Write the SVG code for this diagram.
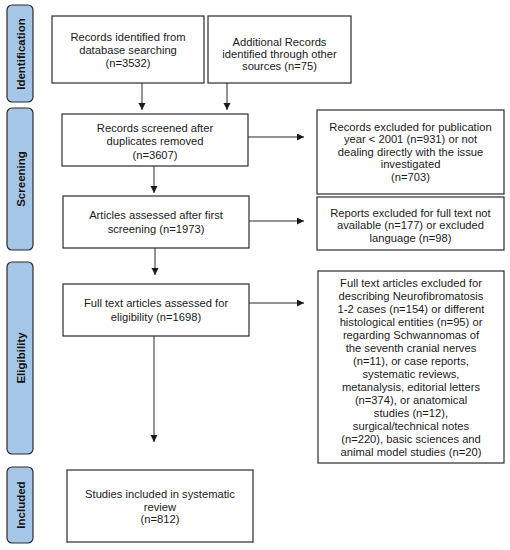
<svg xmlns="http://www.w3.org/2000/svg" width="510" height="550" viewBox="0 0 510 550">
<defs>
<style>
.box{fill:#fff;stroke:#2b2b2b;stroke-width:1.2}
.side{fill:#a6c6e8;stroke:#2b2b2b;stroke-width:1.2}
.t{font-family:"Liberation Sans",Arial,sans-serif;font-size:11.2px;fill:#1a1a1a;text-anchor:middle}
.s{font-family:"Liberation Sans",Arial,sans-serif;font-size:11.5px;font-weight:bold;fill:#111;text-anchor:middle}
.c{stroke:#2b2b2b;stroke-width:1;fill:none;marker-end:url(#ah)}
</style>
<marker id="ah" markerUnits="userSpaceOnUse" markerWidth="8" markerHeight="8" refX="7" refY="3.5" orient="auto">
<path d="M0,0 L7,3.5 L0,7 z" fill="#1a1a1a"/>
</marker>
</defs>
<rect width="510" height="550" fill="#fff"/>

<g id="stage-identification">
<rect class="side" x="7" y="5" width="26" height="97" rx="5"/>
<text class="s" transform="translate(25,54) rotate(-90)">Identification</text>
</g>
<g id="stage-screening">
<rect class="side" x="7" y="108" width="26" height="142" rx="5"/>
<text class="s" transform="translate(25,179) rotate(-90)">Screening</text>
</g>
<g id="stage-eligibility">
<rect class="side" x="7" y="262" width="26" height="192" rx="5"/>
<text class="s" transform="translate(25,358) rotate(-90)">Eligibility</text>
</g>
<g id="stage-included">
<rect class="side" x="7" y="467" width="26" height="76" rx="5"/>
<text class="s" transform="translate(25,505) rotate(-90)">Included</text>
</g>

<g id="connectors">
<line class="c" x1="142" y1="83" x2="142" y2="110"/>
<line class="c" x1="227" y1="83" x2="227" y2="110"/>
<line class="c" x1="154" y1="166" x2="154" y2="193"/>
<line class="c" x1="155" y1="248" x2="155" y2="275"/>
<line class="c" x1="154" y1="336" x2="154" y2="442"/>
<line class="c" x1="248" y1="137" x2="304" y2="137"/>
<line class="c" x1="249" y1="221" x2="304" y2="221"/>
<line class="c" x1="249" y1="303" x2="304" y2="303"/>
</g>

<g id="records-db">
<rect class="box" x="52" y="16" width="152" height="67"/>
<text class="t" x="128" y="40.5">Records identified from</text>
<text class="t" x="128" y="53.5">database searching</text>
<text class="t" x="128" y="66.5">(n=3532)</text>
</g>
<g id="records-other">
<rect class="box" x="208" y="16" width="143" height="67"/>
<text class="t" x="279.5" y="45.5">Additional Records</text>
<text class="t" x="279.5" y="57.5">identified through other</text>
<text class="t" x="279.5" y="69.5">sources (n=75)</text>
</g>
<g id="screened">
<rect class="box" x="62" y="114" width="186" height="52"/>
<text class="t" x="155" y="131.5">Records screened after</text>
<text class="t" x="155" y="145">duplicates removed</text>
<text class="t" x="155" y="158.5">(n=3607)</text>
</g>
<g id="assessed-first">
<rect class="box" x="63" y="196" width="186" height="52"/>
<text class="t" x="156" y="219">Articles assessed after first</text>
<text class="t" x="156" y="233">screening (n=1973)</text>
</g>
<g id="full-text">
<rect class="box" x="63" y="284" width="186" height="52"/>
<text class="t" x="156" y="307">Full text articles assessed for</text>
<text class="t" x="156" y="320.5">eligibility (n=1698)</text>
</g>
<g id="included">
<rect class="box" x="67" y="470" width="186" height="72"/>
<text class="t" x="160" y="498">Studies included in systematic</text>
<text class="t" x="160" y="510.5">review</text>
<text class="t" x="160" y="522.5">(n=812)</text>
</g>
<g id="excluded-pub">
<rect class="box" x="317" y="110" width="187" height="84"/>
<text class="t" x="410.5" y="130.5">Records excluded for publication</text>
<text class="t" x="410.5" y="143">year &lt; 2001 (n=931) or not</text>
<text class="t" x="410.5" y="155.5">dealing directly with the issue</text>
<text class="t" x="410.5" y="168">investigated</text>
<text class="t" x="410.5" y="180.5">(n=703)</text>
</g>
<g id="excluded-reports">
<rect class="box" x="317" y="197" width="187" height="53"/>
<text class="t" x="410.5" y="216.5">Reports excluded for full text not</text>
<text class="t" x="410.5" y="229">available (n=177) or excluded</text>
<text class="t" x="410.5" y="241.5">language (n=98)</text>
</g>
<g id="excluded-full">
<rect class="box" x="318" y="271" width="186" height="192"/>
<text class="t" x="411" y="287.3">Full text articles excluded for</text>
<text class="t" x="411" y="300.3">describing Neurofibromatosis</text>
<text class="t" x="411" y="313.3">1-2 cases (n=154) or different</text>
<text class="t" x="411" y="326.3">histological entities (n=95) or</text>
<text class="t" x="411" y="339.3">regarding Schwannomas of</text>
<text class="t" x="411" y="352.3">the seventh cranial nerves</text>
<text class="t" x="411" y="365.3">(n=11), or case reports,</text>
<text class="t" x="411" y="378.3">systematic reviews,</text>
<text class="t" x="411" y="391.3">metanalysis, editorial letters</text>
<text class="t" x="411" y="404.3">(n=374), or anatomical</text>
<text class="t" x="411" y="417.3">studies (n=12),</text>
<text class="t" x="411" y="430.3">surgical/technical notes</text>
<text class="t" x="411" y="443.3">(n=220), basic sciences and</text>
<text class="t" x="411" y="456.3">animal model studies (n=20)</text>
</g>
</svg>
